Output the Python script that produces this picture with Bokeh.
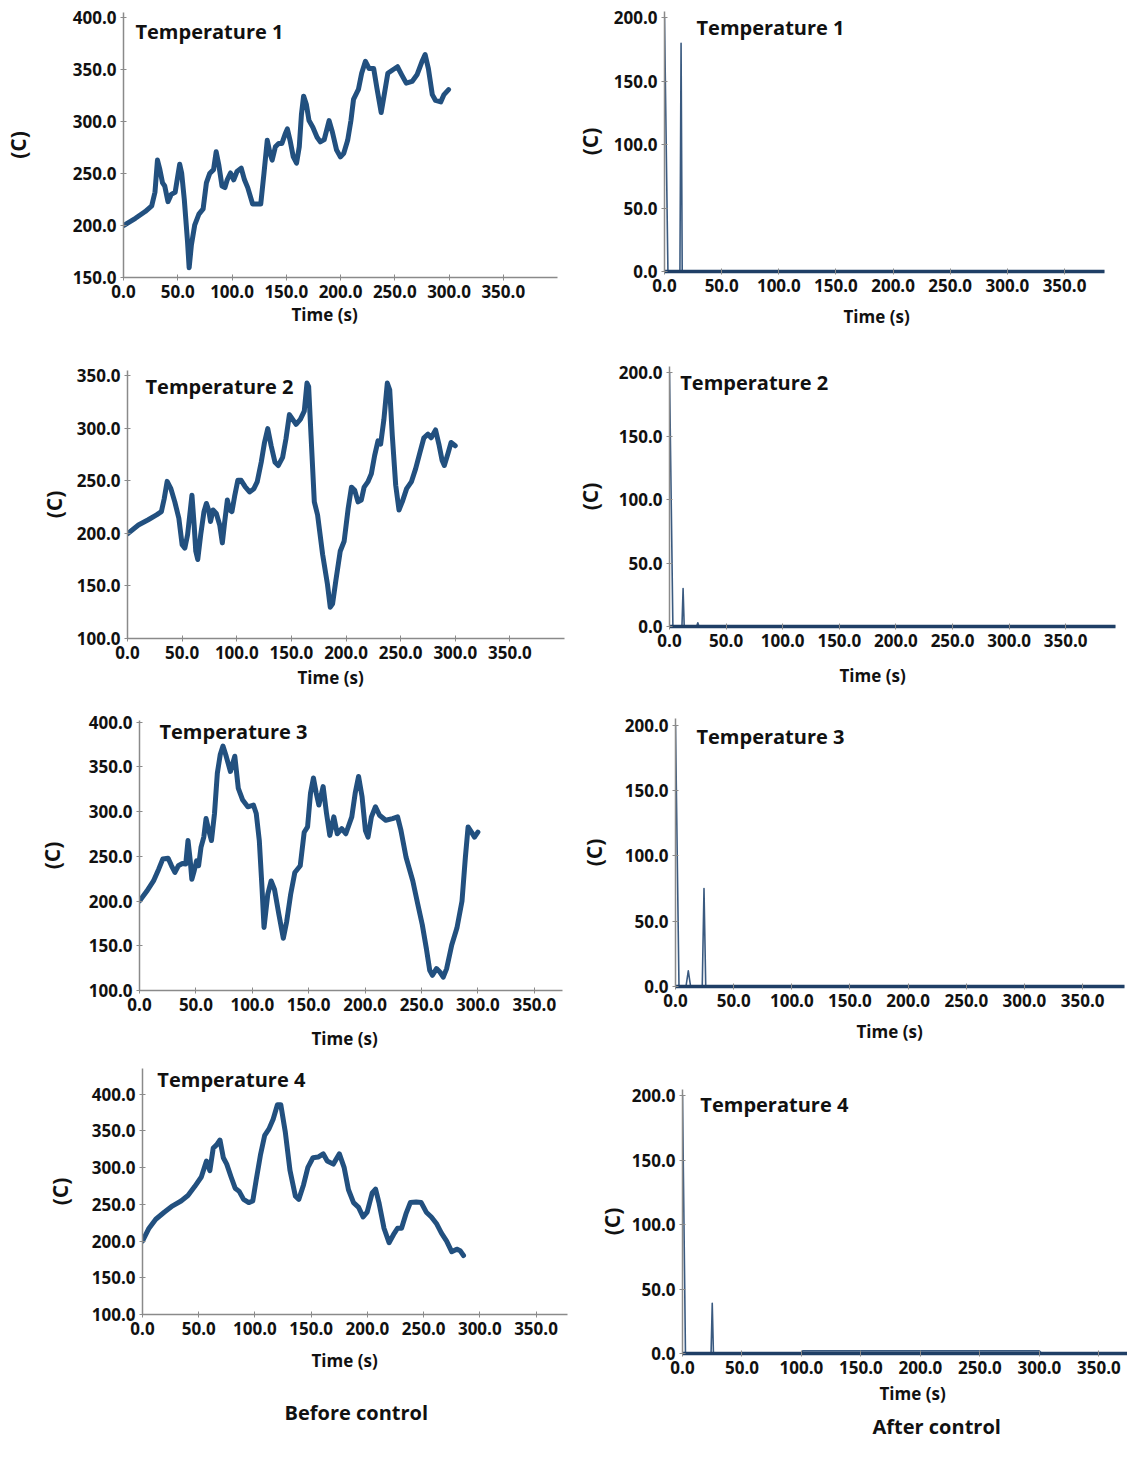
from bokeh.plotting import figure
from bokeh.layouts import column, row
from bokeh.models import FixedTicker, PrintfTickFormatter, Label, Range1d, Title
from bokeh.embed import file_html
from bokeh.resources import INLINE

# ---------------- data: before control ----------------
t1_before_time = [0, 11, 20, 26, 29, 31.3, 33.5, 36, 38, 41, 44, 47.6, 50, 51.8, 53.6, 56, 59, 60.5, 62.6,
                  65.6, 69.5, 73.4, 76.4, 79.4, 83, 85.4, 87.8, 90.8, 93.5, 95.6, 98.6, 101.6, 104.6, 108.5,
                  111.5, 114.5, 119, 122, 126.5, 129.5, 132.5, 135, 137, 140, 143, 146, 149, 151, 153.5,
                  156.5, 159.5, 162, 164, 166, 168.5, 171, 174.5, 178.4, 181.4, 185, 189.5, 192.5, 196.4,
                  200, 203, 206.6, 209.6, 212, 216.5, 219.5, 223, 226.4, 230.6, 233.6, 237.5, 240.6, 243.6,
                  248, 252.5, 256.4, 260.6, 266, 270.5, 275, 278, 281, 284.6, 287.6, 292.4, 295.4, 299.6]
t1_before_temp = [200, 207, 213.5, 219, 232, 263, 254, 241, 238, 223, 230, 232, 247.5, 259, 250.6, 225.5,
                  184.6, 159.4, 181.4, 200.3, 211, 216, 241, 250, 253.8, 271, 258.5, 238, 236.5, 244, 250.6,
                  244, 252, 255.3, 244, 236.5, 220.8, 220.8, 220.8, 250.6, 282, 269.5, 263, 275.8, 279, 279,
                  288, 293, 282, 266, 260, 275.8, 307, 324.5, 316.7, 301, 294.6, 285, 280.5, 282.7, 301,
                  290, 272.6, 266, 269.5, 282, 301, 321.4, 331, 346.5, 358, 351, 351, 332, 308.8, 327.7,
                  346.5, 349.7, 352.8, 345, 337, 338.7, 345, 357.5, 364.5, 351, 326, 320.4, 319, 326, 330.8]

t2_before_time = [0, 10, 19, 26.6, 31, 33.6, 36.3, 39.7, 43.3, 47, 50, 52.5, 55, 57, 59, 61, 62.5, 64.3, 67,
                  70, 72.2, 74.3, 76, 78.3, 81.3, 84.4, 86.8, 89, 91.4, 93.5, 95.6, 98, 101, 104, 107.8,
                  111.7, 115.7, 118.7, 122.4, 125.4, 128.4, 131.5, 135, 138, 142, 145, 148.2, 151.2, 154.3,
                  158.2, 161.8, 164.3, 165.8, 168, 171, 174, 178.6, 183, 185.6, 187.7, 190.7, 194.7, 198.3,
                  202, 205, 208, 211, 214, 216.6, 220, 223.2, 226.2, 229.3, 231.7, 234.7, 237.8, 240, 242.4,
                  245.5, 248.5, 251.5, 255.5, 259.8, 263.7, 267.7, 271.3, 275, 278, 282, 285, 288, 290,
                  293.2, 296.2, 300]
t2_before_temp = [199.7, 208, 213, 217.6, 220.7, 233, 249.5, 242.6, 230, 214.4, 189.3, 186, 198.7, 217.5,
                  236.4, 208, 183, 175.2, 198.7, 220.7, 228.5, 222.3, 211.3, 222.3, 219, 208, 191, 211.3,
                  231.7, 222.3, 220.7, 235, 250.5, 250.5, 244.2, 239.5, 242.6, 249, 267.7, 286.5, 299.7,
                  283.4, 267.7, 264.6, 272.4, 289.7, 313, 308.5, 303.8, 308.5, 316.3, 343, 339.8, 292.8,
                  230, 217.5, 180, 151.7, 129.8, 133, 155, 183, 192.5, 223.8, 244, 241, 230, 231.7, 244, 249,
                  256.7, 274, 288, 285, 308.5, 343, 336.7, 292.8, 245.8, 222.3, 230, 242.6, 249, 261.4, 277,
                  291, 294.4, 291, 298.4, 285, 269.3, 264.6, 275.5, 286.5, 283.4]

t3_before_time = [0, 6.4, 12.4, 17, 20.6, 25.4, 28.4, 31.4, 34.4, 38, 41, 43, 45, 46.4, 48.5, 50.6, 52.4,
                  54.5, 57, 59, 61.4, 63.8, 66.5, 69, 71.6, 74, 76.4, 80.6, 84.5, 87.6, 91.5, 96, 101, 103.5,
                  106.2, 108.6, 110.4, 113.7, 116.7, 119.7, 123.6, 127.5, 130.5, 134, 137.7, 142.5, 146, 149,
                  151.6, 154.2, 156.7, 159, 162.8, 165.8, 168.7, 172.3, 175.3, 179.3, 182.9, 188.2, 191.2,
                  194.2, 197.3, 200.3, 202.6, 205.6, 209.2, 212.8, 218.3, 224.3, 228.8, 231.8, 236.3, 242.3,
                  246.8, 250.7, 254.3, 257.3, 259.7, 263.3, 266.3, 269.3, 272.3, 276.8, 281.4, 285.9, 288.9,
                  291.3, 294.3, 297, 300]
t3_before_temp = [200, 211, 222.5, 235.7, 247, 248, 239.5, 232, 239.5, 242, 241.4, 267.8, 245, 224.4, 233.9,
                  245, 239.5, 260, 271.6, 292.3, 279, 267.8, 298, 343, 364, 373.4, 364, 345, 362, 326, 313,
                  305.5, 307.4, 298, 267.8, 215, 170.5, 207.5, 222.5, 213, 184.8, 158.4, 177.3, 207.5, 232,
                  239.5, 277, 283, 320.6, 337.6, 320.6, 307.4, 328, 298, 273.5, 294.2, 275.3, 281, 275.3,
                  294.2, 320.6, 339.4, 316.8, 279, 271.6, 294.2, 305.5, 296, 290.4, 292.3, 294.2, 279, 249,
                  222.5, 196, 173.5, 147, 122.6, 117, 124.5, 120.7, 115, 124.5, 151, 169.8, 200, 249, 283,
                  277.2, 271.6, 277.2]

t4_before_time = [0, 5.8, 11.8, 19.3, 26.8, 34.3, 40.4, 46.4, 52.3, 56.9, 59.9, 62.9, 65.9, 68.9, 71.9,
                  74.9, 78.8, 82.4, 86, 89.9, 94.5, 98.1, 101.1, 105, 108.7, 112.5, 116.2, 120, 123, 127,
                  131.2, 136, 139, 143.2, 147.1, 151.6, 156.2, 160.7, 164.3, 169.7, 175.1, 179.3, 183.2,
                  187.7, 192.2, 196.2, 199.8, 204.3, 207.3, 210.3, 214.8, 219.3, 223.2, 226.8, 230.4, 234.3,
                  238.2, 243.4, 247.9, 252.4, 256.9, 261.4, 265.9, 270.5, 275, 279.5, 282.5, 285.5]
t4_before_temp = [200, 217.5, 229.7, 239.3, 248, 254.6, 262, 274.2, 287.3, 309, 296, 326.6, 331, 337.6,
                  313.5, 304.8, 287.3, 272, 267.7, 256.8, 252.4, 254.6, 283, 318, 344, 352.8, 366, 385.6,
                  385.6, 348.5, 296, 261, 256.8, 276.4, 300.4, 313.5, 314.4, 318.8, 309, 304.8, 318.8,
                  300.4, 269.9, 252.4, 245.9, 232.8, 239.3, 265.5, 270.7, 252.4, 217.5, 197.8, 208.7, 217.5,
                  217.5, 237, 252.4, 253.3, 252.4, 239.3, 232.8, 224, 210.9, 200, 185.6, 189, 186.9, 180.3]

# ---------------- data: after control ----------------
t1_after_time = [0, 3, 13.5, 14.5, 15.5, 385]
t1_after_temp = [200, 0, 0, 180, 0, 0]
t2_after_time = [0, 3, 11, 12, 13, 24, 25, 26, 394]
t2_after_temp = [200, 0, 0, 30, 0, 0, 3, 0, 0]
t3_after_time = [0, 3, 9, 11, 13, 23, 24.5, 26, 386]
t3_after_temp = [200, 0, 0, 12, 0, 0, 75, 0, 0]
t4_after_time = [0, 2.5, 24, 25, 26, 100, 101, 300, 302, 374]
t4_after_temp = [200, 0, 0, 39, 0, 0, 2, 2, 0, 0]

x_ticks = [0, 50, 100, 150, 200, 250, 300, 350]
y_ticks_before_1 = [150, 200, 250, 300, 350, 400]
y_ticks_before_2 = [100, 150, 200, 250, 300, 350]
y_ticks_before_34 = [100, 150, 200, 250, 300, 350, 400]
y_ticks_after = [0, 50, 100, 150, 200]

titles = ["Temperature 1", "Temperature 2", "Temperature 3", "Temperature 4"]
x_label = "Time (s)"
y_label = "(C)"

FONT = "Open Sans"
LINE_BEFORE = "#22507f"
LINE_AFTER = "#3a5a80"
BASE_AFTER = "#1f3f66"
AXIS = "#8a8a8a"
TXT = "#111111"


def make_panel(xs, ys, x_end, y_start, y_end, yticks, width, height, borders, ylab_standoff,
               xlab_standoff, xlab_offset, title, title_xy, after):
    left, right, top, bottom = borders
    p = figure(width=width, height=height, x_range=Range1d(0, x_end), y_range=Range1d(y_start, y_end),
               output_backend="svg", toolbar_location=None,
               min_border_left=left, min_border_right=right, min_border_top=top, min_border_bottom=bottom)
    if after:
        p.line(xs, ys, line_color=LINE_AFTER, line_width=1.6, line_join="round")
    else:
        p.line(xs, ys, line_color=LINE_BEFORE, line_width=5, line_join="round", line_cap="round")
    p.grid.visible = False
    p.outline_line_color = None
    p.background_fill_color = "white"
    p.border_fill_color = "white"
    p.xaxis.ticker = FixedTicker(ticks=x_ticks)
    p.yaxis.ticker = FixedTicker(ticks=yticks)
    for ax in (p.xaxis[0], p.yaxis[0]):
        ax.formatter = PrintfTickFormatter(format="%.1f")
        ax.major_label_text_font = FONT
        ax.major_label_text_font_style = "bold"
        ax.major_label_text_font_size = "17px"
        ax.major_label_text_color = TXT
        ax.major_label_standoff = 4
        ax.axis_line_color = AXIS
        ax.axis_line_width = 1.5
        ax.major_tick_line_color = AXIS
        ax.major_tick_in = 3
        ax.major_tick_out = 3
        ax.minor_tick_line_color = None
        ax.axis_label_text_font = FONT
        ax.axis_label_text_font_style = "bold"
        ax.axis_label_text_color = TXT
    if after:
        p.xaxis.axis_line_color = BASE_AFTER
        p.xaxis.axis_line_width = 3.5
    p.yaxis.axis_label = y_label
    p.yaxis.axis_label_text_font_size = "21px"
    p.yaxis.axis_label_standoff = ylab_standoff
    p.add_layout(Title(text=x_label, align="left", offset=xlab_offset, standoff=xlab_standoff,
                       text_font=FONT, text_font_style="bold", text_font_size="17px",
                       text_color=TXT), "below")
    p.add_layout(Label(x=title_xy[0], y=title_xy[1], text=title, text_font=FONT, text_font_style="bold",
                       text_font_size="20px", text_baseline="middle", text_align="left",
                       text_color=TXT))
    return p


LW, RW = 572, 555
H = [340, 360, 360, 382]

l1 = make_panel(t1_before_time, t1_before_temp, 400, 150, 405, y_ticks_before_1, LW, H[0],
                (117, 15, 12, 63), 38, 1, 168, titles[0], (11, 387), False)
r1 = make_panel(t1_after_time, t1_after_temp, 385, 0, 205, y_ticks_after, RW, H[0],
                (84, 23, 11, 69), 7, 16, 179, titles[0], (28, 192), True)

l2 = make_panel(t2_before_time, t2_before_temp, 400, 100, 355, y_ticks_before_2, LW, H[1],
                (127, 8, 30, 62), 6, 5, 170, titles[1], (16.5, 340), False)
r2 = make_panel(t2_after_time, t2_after_temp, 394, 0, 205, y_ticks_after, RW, H[1],
                (89, 12, 26, 74), 12, 24, 170, titles[1], (9.5, 192), True)

l3 = make_panel(t3_before_time, t3_before_temp, 375, 100, 402, y_ticks_before_34, LW, H[2],
                (139, 10, 20, 69), 20, 22, 172, titles[2], (17.7, 390), False)
r3 = make_panel(t3_after_time, t3_after_temp, 386, 0, 205, y_ticks_after, RW, H[2],
                (103, 3, 18, 74), 14, 17, 181, titles[2], (18, 191.5), True)

l4 = make_panel(t4_before_time, t4_before_temp, 378, 100, 435, y_ticks_before_34, LW, H[3],
                (142, 5, 8, 126), 15, 18, 169, titles[3], (13.2, 420), False)
r4 = make_panel(t4_after_time, t4_after_temp, 374, 0, 205, y_ticks_after, RW, H[3],
                (110, 0, 29, 88), 3, 6, 197, titles[3], (15, 193), True)

l4.add_layout(Title(text="Before control", align="left", offset=142, standoff=33, text_font=FONT,
                    text_font_style="bold", text_font_size="20px", text_color=TXT), "below")
r4.add_layout(Title(text="After control", align="left", offset=190, standoff=6, text_font=FONT,
                    text_font_style="bold", text_font_size="20px", text_color=TXT), "below")

layout = column(row(column(l1), column(r1)), row(column(l2), column(r2)),
                row(column(l3), column(r3)), row(column(l4), column(r4)))

open("out.html", "w").write(file_html(layout, INLINE))
